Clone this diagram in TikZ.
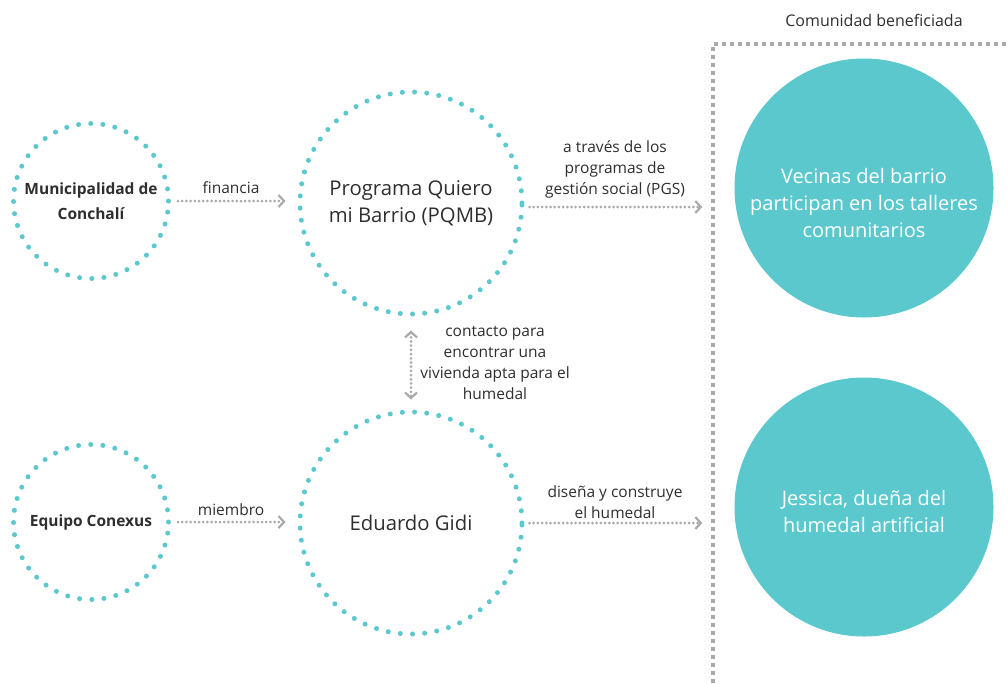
\documentclass[tikz,border=0pt]{standalone}
\usepackage{fontspec}
\setmainfont{Open Sans}
\usetikzlibrary{
  calc,
  positioning,
  arrows.meta
}
\definecolor{ringteal}{HTML}{5BC8CE}
\definecolor{flowgrey}{HTML}{AAAAAA}
\definecolor{labelgrey}{HTML}{2E2E2E}

\begin{document}
\begin{tikzpicture}[x=1pt,y=1pt,>={Straight Barb[length=5.5pt,width=12pt,line width=2.2pt]}]
  \tikzset{
    dotring/.style={
      circle, draw=ringteal, line width=5pt, line cap=round,
      dash pattern=on 0pt off 12.2pt, minimum size=#1, inner sep=0pt,
      align=center, text=labelgrey
    },
    fullring/.style={
      circle, fill=ringteal, minimum size=#1, inner sep=0pt
    },
    ringtext/.style={
      align=center, text=white, font=\fontsize{20}{27}\selectfont
    },
    flow/.style={
      draw=flowgrey, line width=3pt, line cap=round,
      dash pattern=on 0pt off 4.2pt
    },
    flowtext/.style={
      align=center, text=labelgrey, font=\fontsize{15.5}{21}\selectfont
    },
    % every node/.style={font=\large}
  }
\useasboundingbox (0,0) rectangle (1008,-683);

% left column
\node[dotring=155pt, font=\bfseries\fontsize{15.5}{25}\selectfont] (muni) at (91,-201) {Municipalidad de\\Conchalí};
\node[dotring=155pt, font=\bfseries\fontsize{15.5}{25}\selectfont] (conexus) at (91,-522) {Equipo Conexus};

% middle column
\node[dotring=222pt, font=\fontsize{20.3}{27}\selectfont] (pqmb) at (411,-203) {Programa Quiero\\mi Barrio (PQMB)};
\node[dotring=222pt, font=\fontsize{20.3}{27}\selectfont] (gidi) at (411,-523) {Eduardo Gidi};

% right column
\node[fullring=259pt] (vecinas) at (864,-188) {};
\node[fullring=259pt] (jessica) at (864,-507) {};
\node[ringtext] (vecinas-text) at ($(vecinas)+(0,-15)$) {Vecinas del barrio\\participan en los talleres\\comunitarios};
\node[ringtext] (jessica-text) at ($(jessica)+(0,-4)$) {Jessica, dueña del\\humedal artificial};

% frame of the community
\coordinate (f1) at (713,-683);
\coordinate (f2) at (713,-44);
\coordinate (f3) at (1008,-44);
\draw[flowgrey, line width=4pt, dash pattern=on 4pt off 4pt] (f1)--(f2)--(f3);
\node[flowtext, font=\fontsize{16}{21}\selectfont] (comunidad) at (874,-20) {Comunidad beneficiada};

% connectors
\coordinate (e1) at ($(pqmb.east)+(0,-4)$);
\coordinate (e2) at ($(gidi.east)+(0,0)$);
\draw[flow,->] ([xshift=7pt]muni.east) -- ([xshift=-12pt]muni.east -| pqmb.west);
\draw[flow,->] ([xshift=7pt]conexus.east) -- ([xshift=-12pt]conexus.east -| gidi.west);
\draw[flow,->] ([xshift=5pt]e1) -- ([xshift=-32pt]e1 -| vecinas.west);
\draw[flow,->] ([xshift=5pt]e2) -- ([xshift=-32pt]e2 -| jessica.west);
\draw[flow,<->] ([yshift=-14pt]pqmb.south) -- ([yshift=10pt]gidi.north);

% labels
\node[flowtext] (financia) at (231,-188) {financia};
\node[flowtext] (miembro) at (231,-510) {miembro};
\node[flowtext] (pgs) at (615,-169) {a través de los\\programas de\\gestión social (PGS)};
\node[flowtext] (contacto) at (495,-363) {contacto para\\encontrar una\\vivienda apta para el\\humedal};
\node[flowtext] (disena) at (615,-502) {diseña y construye\\el humedal};

\end{tikzpicture}
\end{document}
